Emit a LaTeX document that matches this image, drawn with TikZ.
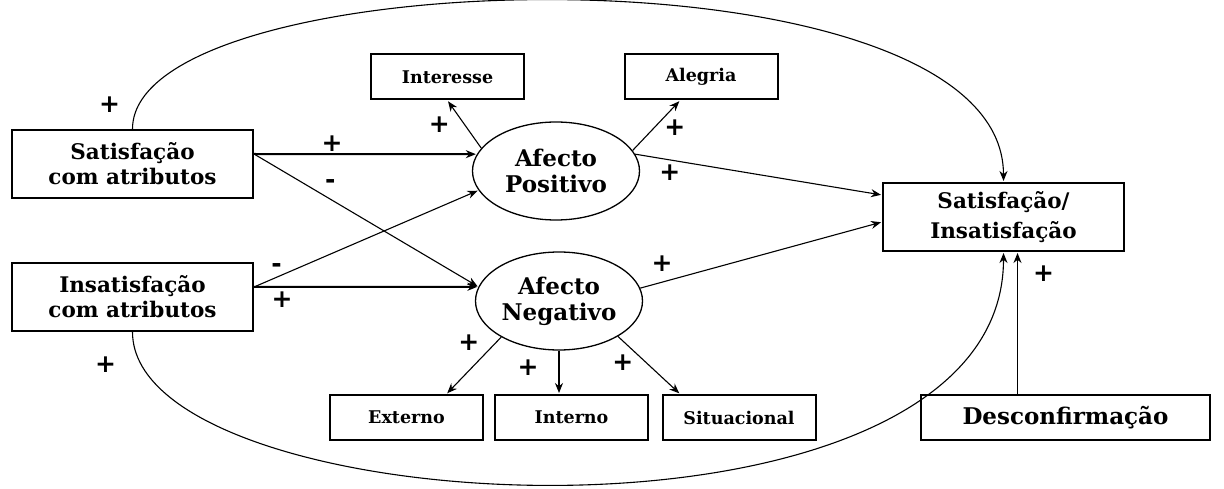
\documentclass[tikz,border=0pt]{standalone}
\usepackage{fontspec}
\setmainfont{DejaVu Serif}
\newfontfamily\signfont{DejaVu Sans}
\usetikzlibrary{positioning,calc,arrows.meta,shapes.geometric}

\begin{document}
\begin{tikzpicture}[x=1pt,y=-1pt,>={Stealth[length=10pt,width=8pt]},shorten >=1pt,
  box node/.style={rectangle,draw,line width=2pt,align=center,inner sep=0pt},
  big box/.style={box node,minimum width=241pt,minimum height=68pt,font=\bfseries\fontsize{21.5}{25}\selectfont},
  small box/.style={box node,minimum width=153pt,minimum height=45pt,font=\bfseries\fontsize{17.5}{20}\selectfont},
  affect node/.style={ellipse,draw,line width=1.3pt,align=center,inner sep=0pt,minimum width=167pt,minimum height=98pt,font=\bfseries\fontsize{23}{26}\selectfont},
  sign node/.style={font=\signfont\bfseries\fontsize{25}{25}\selectfont,inner sep=1pt},
  link/.style={->,line width=1.1pt},
  main link/.style={->,line width=2pt}]
\useasboundingbox (0,0) rectangle (1224,489);
% nodes
  \node[big box] (sat) at (132.5,164) {Satisfação\\com atributos};
  \node[big box] (insat) at (132.5,297) {Insatisfação\\com atributos};
  \node[big box,font=\bfseries\fontsize{21.5}{30}\selectfont] (satins) at (1003.5,217) {Satisfação/\\Insatisfação};
  \node[small box] (interesse) at (447.5,77) {Interesse};
  \node[small box] (alegria) at (701,77) {Alegria};
  \node[small box] (externo) at (406.5,417.5) {Externo};
  \node[small box] (interno) at (571.5,417.5) {Interno};
  \node[small box] (situacional) at (739,417.5) {Situacional};
  \node[box node,minimum width=289pt,minimum height=45pt,font=\bfseries\fontsize{23}{26}\selectfont] (desconf) at (1065.5,417.5) {Desconfirmação};
  \node[affect node] (afpos) at (556,171) {Afecto\\Positivo};
  \node[affect node] (afneg) at (559,301) {Afecto\\Negativo};
  %edges
  \path[link]
    ([yshift=10pt]sat.east) edge[main link] node[sign node,pos=.35,above=1pt] {+} (afpos.168)
    ([yshift=10pt]sat.east) edge node[sign node,pos=.34,above=9pt] {-} (afneg.170)
    ([yshift=10pt]insat.east) edge node[sign node,pos=.1,above=3pt] {-} (afpos.194)
    ([yshift=10pt]insat.east) edge[main link] node[sign node,pos=.125,below=3pt] {+} (afneg.170)
    (afpos.163) edge node[sign node,left=13pt] {+} (interesse.south)
    (afpos.15) edge node[sign node,pos=.45,right=9pt] {+} ([xshift=-21pt]alegria.south)
    (afpos.12) edge node[sign node,pos=.14,below=3pt] {+} ([yshift=22pt]satins.west)
    (afneg.9) edge node[sign node,pos=.09,above=9pt] {+} ([yshift=-5pt]satins.west)
    (afneg.212) edge node[sign node,pos=.1,left=15pt] {+} ([xshift=40pt]externo.north)
    (afneg.south) edge node[sign node,pos=.4,left=19pt] {+} (afneg.south |- interno.north)
    (afneg.-31) edge node[sign node,pos=.45,left=11pt] {+} ([xshift=-59pt]situacional.north)
    ([xshift=-48pt]desconf.north) edge node[sign node,pos=.85,right=14pt] {+} ([xshift=-48pt]desconf.north |- satins.south);
  % outer curves
  \draw[link] (sat.north) .. controls +(0,-170) and +(0,-243) .. (satins.north)
    node[sign node,pos=0,above left=15pt and 11pt] {+};
  \draw[link] (insat.south) .. controls +(0,194) and +(0,319) .. (satins.south)
    node[sign node,pos=0,below left=23pt and 15pt] {+};
\end{tikzpicture}
\end{document}
